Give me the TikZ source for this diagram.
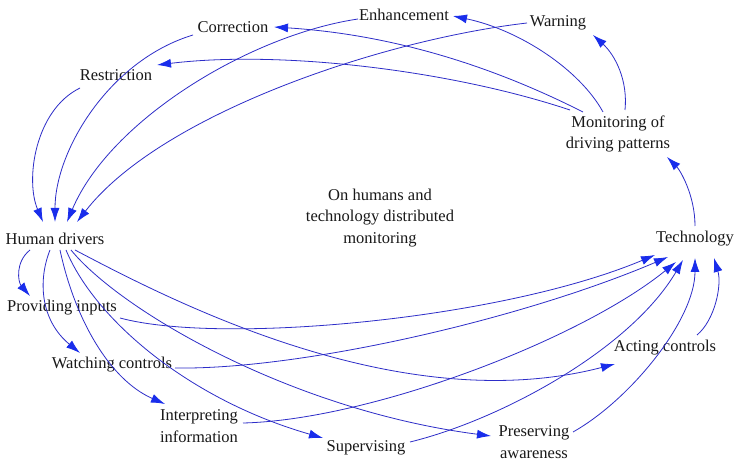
\documentclass[tikz,border=0pt]{standalone}
\usepackage{fontspec}
\setmainfont{Liberation Serif}
\usetikzlibrary{arrows.meta}
\definecolor{linecol}{RGB}{45,45,200}
\definecolor{tipcol}{RGB}{25,45,235}
\definecolor{txtcol}{RGB}{25,25,25}
\begin{document}
\begin{tikzpicture}[x=1pt,y=-1pt,
  lbl/.style={inner sep=0pt,align=center,text=txtcol,font=\fontsize{16.5}{21.5}\selectfont},
  edge/.style={draw=linecol,line width=0.8pt,-{Latex[length=14pt,width=9pt,color=tipcol]}}]
\useasboundingbox (0,0) rectangle (737,462);
\fill[white] (0,0) rectangle (737,462);
% nodes
\node[lbl] (cor) at (233,27) {Correction};
\node[lbl] (enh) at (404,15) {Enhancement};
\node[lbl] (warn) at (558,23) {Warning};
\node[lbl] (res) at (116,75) {Restriction};
\node[lbl] (mon) at (618,134) {Monitoring of\\driving patterns};
\node[lbl] (cen) at (380,218) {On humans and\\technology distributed\\monitoring};
\node[lbl] (hd) at (55,239) {Human drivers};
\node[lbl] (tech) at (695,239) {Technology};
\node[lbl] (pi) at (62,308) {Providing inputs};
\node[lbl] (wc) at (112,365) {Watching controls};
\node[lbl] (ac) at (665,348) {Acting controls};
\node[lbl] (ii) at (199,426) {Interpreting\\information};
\node[lbl] (sup) at (366,448) {Supervising};
\node[lbl] (pa) at (534,442) {Preserving\\awareness};
% edges to human drivers
\draw[edge] ([shift={(-36,13)}]res.center) .. controls (35,110) and (25,180) .. ([shift={(-12,-17)}]hd.center);
\draw[edge] ([shift={(-40,8)}]cor.center) .. controls (110,60) and (55,150) .. ([shift={(0,-17)}]hd.center);
\draw[edge] ([shift={(-46,4)}]enh.center) .. controls (250,35) and (110,120) .. ([shift={(12,-17)}]hd.center);
\draw[edge] ([shift={(-31,0)}]warn.center) .. controls (380,40) and (160,115) .. ([shift={(22,-17)}]hd.center);
% edges from monitoring
\draw[edge] ([shift={(-48,-24)}]mon.center) .. controls (450,70) and (280,50) .. ([shift={(41,-10)}]res.center);
\draw[edge] ([shift={(-35,-22)}]mon.center) .. controls (500,70) and (400,35) .. ([shift={(41,0)}]cor.center);
\draw[edge] ([shift={(-15,-22)}]mon.center) .. controls (580,70) and (520,30) .. ([shift={(49,1)}]enh.center);
\draw[edge] ([shift={(7,-24)}]mon.center) .. controls (628,80) and (615,55) .. ([shift={(35,12)}]warn.center);
% technology to monitoring
\draw[edge] ([shift={(0,-13)}]tech.center) .. controls (695,195) and (680,170) .. ([shift={(49,23)}]mon.center);
% edges from human drivers
\draw[edge] ([shift={(-25,11)}]hd.center) .. controls (15,262) and (18,282) .. ([shift={(-32,-12)}]pi.center);
\draw[edge] ([shift={(-5,11)}]hd.center) .. controls (38,280) and (40,320) .. ([shift={(-32,-12)}]wc.center);
\draw[edge] ([shift={(5,11)}]hd.center) .. controls (75,320) and (110,380) .. ([shift={(-34,-22)}]ii.center);
\draw[edge] ([shift={(11,11)}]hd.center) .. controls (95,320) and (190,400) .. ([shift={(-43,-10)}]sup.center);
\draw[edge] ([shift={(16,11)}]hd.center) .. controls (120,310) and (290,410) .. ([shift={(-43,-6)}]pa.center);
\draw[edge] ([shift={(20,11)}]hd.center) .. controls (170,300) and (400,420) .. ([shift={(-50,16)}]ac.center);
% edges to technology
\draw[edge] ([shift={(58,10)}]pi.center) .. controls (220,345) and (500,320) .. ([shift={(-40,16)}]tech.center);
\draw[edge] ([shift={(63,3)}]wc.center) .. controls (300,370) and (520,320) .. ([shift={(-27,18)}]tech.center);
\draw[edge] ([shift={(44,-3)}]ii.center) .. controls (370,420) and (580,340) .. ([shift={(-19,23)}]tech.center);
\draw[edge] ([shift={(44,-6)}]sup.center) .. controls (500,420) and (630,350) .. ([shift={(-12,21)}]tech.center);
\draw[edge] ([shift={(39,-10)}]pa.center) .. controls (630,400) and (695,320) .. ([shift={(0,19)}]tech.center);
\draw[edge] ([shift={(32,-13)}]ac.center) .. controls (715,320) and (722,285) .. ([shift={(19,19)}]tech.center);
\end{tikzpicture}
\end{document}
